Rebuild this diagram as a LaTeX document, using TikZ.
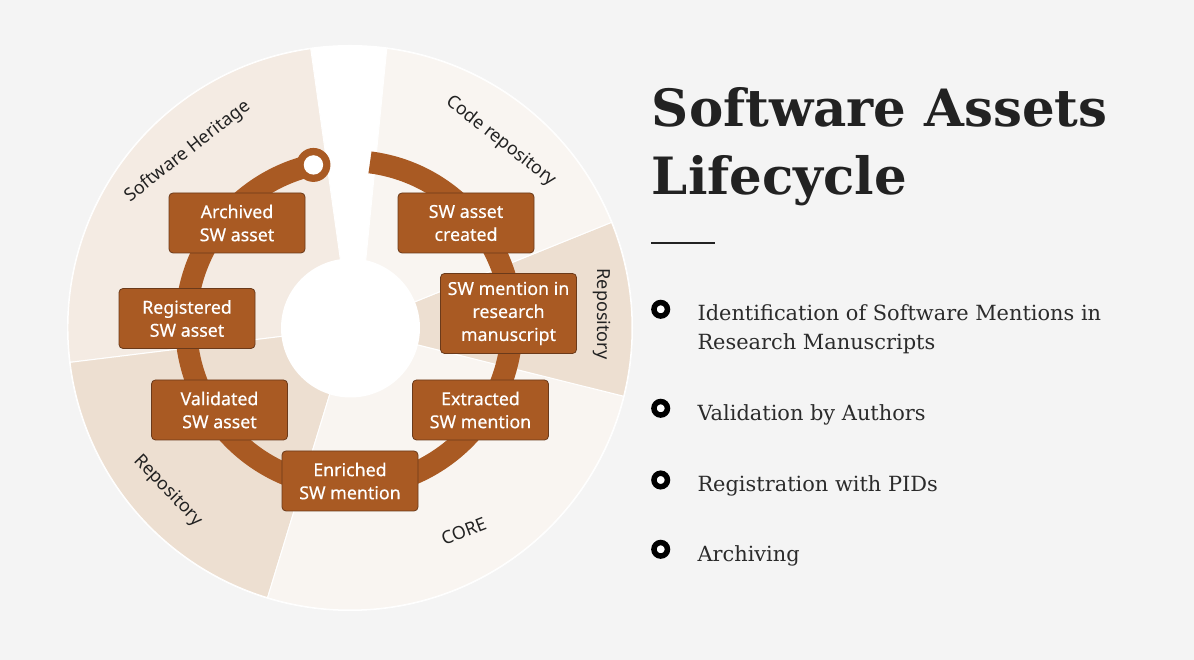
\documentclass[tikz,border=0pt]{standalone}
\usepackage{fontspec}
\setmainfont{DejaVu Serif}
\newfontfamily\boxfont[FakeBold=0.35]{Noto Sans}
\newfontfamily\labfont{Noto Sans}
\usetikzlibrary{calc}
\definecolor{bgc}{HTML}{F4F4F4}
\definecolor{swbrown}{HTML}{A95A23}
\definecolor{swborder}{HTML}{6B3A1A}
\definecolor{seclight}{HTML}{F9F5F1}
\definecolor{secmid}{HTML}{F4EBE3}
\definecolor{secdark}{HTML}{EDDFD1}
\definecolor{titlec}{HTML}{222222}
\definecolor{bodyc}{HTML}{2B2B2B}
\begin{document}
\begin{tikzpicture}[x=1pt,y=1pt,
  stepbox/.style={fill=swbrown, draw=swborder, line width=0.8pt, rounded corners=4pt,
    minimum width=136pt, minimum height=60pt, align=center, text=white, inner sep=2pt,
    font=\boxfont\fontsize{17.8}{23}\selectfont},
  seclabel/.style={font=\labfont\fontsize{18}{20}\selectfont, text=titlec, inner sep=0pt},
  btext/.style={anchor=base west, inner sep=0pt, text=bodyc, font=\fontsize{20.9}{28.6}\selectfont},
  bulletdot/.style={circle, draw=black, fill=white, line width=5.5pt, minimum size=13.5pt, inner sep=0pt},
  sector/.style={draw=white, line width=1pt}
]
\fill[bgc] (0,0) rectangle (1194,660);
\useasboundingbox (0,0) rectangle (1194,660);
\coordinate (C) at (350,332);
\coordinate (R) at (349,336);
% wheel background
\fill[white] (C) circle (283);
\fill[secmid, sector] (C) -- ($(C)+(98:282)$) arc[start angle=98, end angle=187, radius=282] -- cycle;
\fill[secdark, sector] (C) -- ($(C)+(187:282)$) arc[start angle=187, end angle=253, radius=282] -- cycle;
\fill[seclight, sector] (C) -- ($(C)+(253:282)$) arc[start angle=253, end angle=346, radius=282] -- cycle;
\fill[secdark, sector] (C) -- ($(C)+(-14:282)$) arc[start angle=-14, end angle=22, radius=282] -- cycle;
\fill[seclight, sector] (359,332) -- ($(C)+(82.5:282)$) arc[start angle=82.5, end angle=22, radius=282] -- (C) -- cycle;
\fill[white] (350.5,332) circle (69.5);
% ring
\draw[swbrown, line width=22pt] ($(R)+(82.6:163)$) arc[start angle=82.6, end angle=-257.4, radius=163];
\fill[swbrown] ($(R)+(102.6:163)$) circle (17);
\fill[white] ($(R)+(102.6:163)$) circle (9.7);
% sector labels
\node[seclabel, rotate=38] (lsh) at (188,508.5) {Software Heritage};
\node[seclabel, rotate=-38] (lcode) at (501,518.6) {Code repository};
\node[seclabel, rotate=-90] (lrepr) at (601.5,346) {Repository};
\node[seclabel, rotate=-46] (lrepl) at (168,169) {Repository};
\node[seclabel, rotate=21] (lcore) at (463.7,128.7) {CORE};
% step boxes
\node[stepbox] (archived) at (237,437) {Archived\\SW asset};
\node[stepbox] (created) at (466,437) {SW asset\\created};
\node[stepbox] (registered) at (187,341.5) {Registered\\SW asset};
\node[stepbox, minimum height=80pt] (mention) at (508.5,346.5) {SW mention in\\research\\manuscript};
\node[stepbox] (validated) at (219.5,250) {Validated\\SW asset};
\node[stepbox] (extracted) at (480.5,250) {Extracted\\SW mention};
\node[stepbox] (enriched) at (350,179) {Enriched\\SW mention};
% title
\node[anchor=base west, inner sep=0pt, text=titlec, font=\bfseries\fontsize{51.4}{60}\selectfont] (title1) at (651.7,533.3) {Software Assets};
\node[anchor=base west, inner sep=0pt, text=titlec, font=\bfseries\fontsize{51.4}{60}\selectfont] (title2) at (651.7,465) {Lifecycle};
\coordinate (ulA) at (651,417.3);
\coordinate (ulB) at (715,417.3);
\draw[titlec, line width=2pt] (ulA) -- (ulB);
% bullets
\node[bulletdot] (b1) at (660.7,350.7) {};
\node[bulletdot] (b2) at (660.7,251.7) {};
\node[bulletdot] (b3) at (660.7,180) {};
\node[bulletdot] (b4) at (660.7,110.7) {};
\node[btext] (t1a) at (697.3,339.3) {Identification of Software Mentions in};
\node[btext] (t1b) at (697.3,310.7) {Research Manuscripts};
\node[btext] (t2) at (697.3,239.3) {Validation by Authors};
\node[btext] (t3) at (697.3,168.3) {Registration with PIDs};
\node[btext] (t4) at (697.3,98.3) {Archiving};
\end{tikzpicture}
\end{document}
